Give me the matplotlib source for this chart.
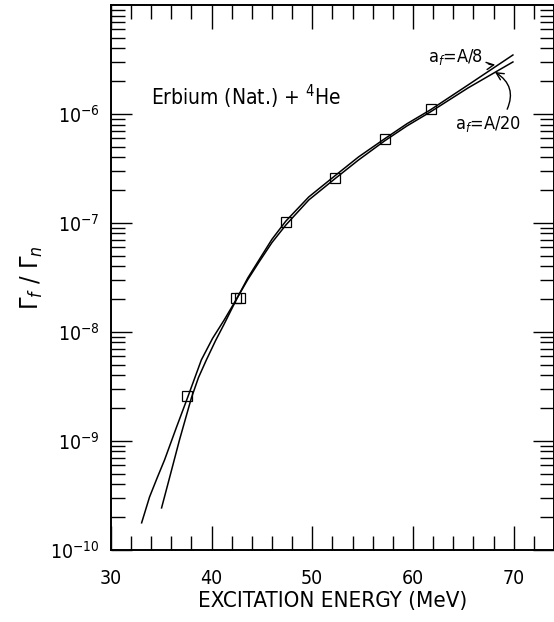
import numpy as np
import matplotlib.pyplot as plt
from matplotlib.ticker import LogLocator, MultipleLocator, NullFormatter, FixedLocator

plt.rcParams['font.family'] = ['DejaVu Sans']
plt.rcParams['font.stretch'] = 'condensed'
plt.rcParams['mathtext.fontset'] = 'dejavusans'

# curve a_f = A/20 (starts lower in energy)
e_a20 = [33.06, 33.85, 34.6, 35.34, 36.5, 37.61, 38.99, 40.1, 41.26, 42.55, 43.6, 44.72, 46.0, 47.39,
         49.66, 52.23, 54.60, 57.17, 59.4, 61.72, 65.47, 69.92]
logr_a20 = [-9.752, -9.514, -9.34, -9.174, -8.88, -8.606, -8.257, -8.06, -7.890, -7.688, -7.52, -7.358, -7.18, -7.018,
            -6.789, -6.596, -6.422, -6.248, -6.11, -5.982, -5.761, -5.523]

# curve a_f = A/8
e_a8 = [35.04, 35.83, 36.82, 38.00, 38.7, 39.49, 40.4, 41.26, 42.55, 43.6, 44.72, 46.0, 47.39,
        49.66, 52.23, 54.60, 57.17, 59.4, 61.72, 65.47, 69.92]
logr_a8 = [-9.615, -9.339, -8.991, -8.606, -8.42, -8.257, -8.08, -7.927, -7.688, -7.505, -7.339, -7.15, -6.982,
           -6.761, -6.569, -6.394, -6.229, -6.09, -5.963, -5.734, -5.459]

# measured points
e_data = [37.6, 42.4, 42.8, 47.4, 52.3, 57.2, 61.8]
r_data = [2.6e-9, 2.05e-8, 2.05e-8, 1.02e-7, 2.6e-7, 5.9e-7, 1.12e-6]

fig = plt.figure(figsize=(5.54, 6.22), dpi=100)
ax = fig.add_axes([0.200, 0.116, 0.800, 0.876])

ax.plot(e_a20, 10**np.array(logr_a20), color='black', lw=1.1)
ax.plot(e_a8, 10**np.array(logr_a8), color='black', lw=1.1)
ax.plot(e_data, r_data, ls='none', marker='s', ms=7, mfc='none', mec='black', mew=0.9)

ax.set_yscale('log')
ax.set_xlim(30, 74.0)
ax.set_ylim(1e-10, 1e-5)

ax.xaxis.set_major_locator(FixedLocator([30, 40, 50, 60, 70]))
ax.xaxis.set_minor_locator(MultipleLocator(2))
ax.yaxis.set_major_locator(FixedLocator([1e-10, 1e-9, 1e-8, 1e-7, 1e-6]))
ax.yaxis.set_minor_locator(LogLocator(base=10, subs=np.arange(2, 10)))
ax.yaxis.set_minor_formatter(NullFormatter())
ax.set_yticklabels([r'$10^{-10}$', r'$10^{-9}$', r'$10^{-8}$', r'$10^{-7}$', r'$10^{-6}$'])

ax.tick_params(which='both', direction='in', top=True, right=True, labelsize=14, width=1.0)
ax.tick_params(which='major', length=17, pad=14)
ax.tick_params(axis='y', which='major', length=15, pad=8)
ax.tick_params(which='minor', length=10)
for s in ax.spines.values():
    s.set_linewidth(1.4)

ax.set_xlabel('EXCITATION ENERGY (MeV)', fontsize=16, labelpad=2)
ax.set_ylabel(r'$\Gamma_f\ /\ \Gamma_n$', fontsize=18, labelpad=4)

ax.text(34.0, 1.2e-6, r'Erbium (Nat.) + $^4$He', fontsize=15)

ax.annotate(r'a$_f$=A/8', xy=(68.3, 2.85e-6), xytext=(61.5, 3.0e-6), fontsize=13,
            arrowprops=dict(arrowstyle='->', color='black', lw=1, shrinkA=2, shrinkB=1,
                            connectionstyle='arc3,rad=0.35', relpos=(1.0, 0.4)))
ax.annotate(r'a$_f$=A/20', xy=(67.9, 2.5e-6), xytext=(64.2, 7.2e-7), fontsize=13,
            arrowprops=dict(arrowstyle='->', color='black', lw=1,
                            connectionstyle='arc3,rad=0.5', relpos=(0.75, 1.0)))

fig.savefig('out.png', dpi=100)
